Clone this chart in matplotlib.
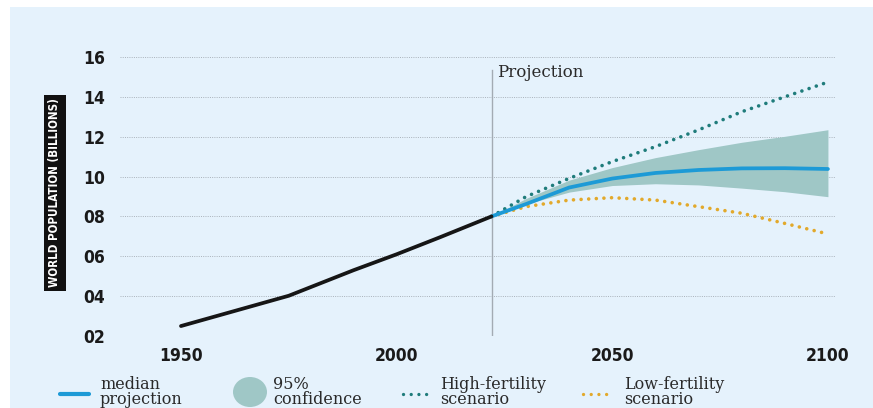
import matplotlib
matplotlib.use("Agg")
import matplotlib.pyplot as plt
from matplotlib import font_manager as fm
from matplotlib.patches import Ellipse
from matplotlib.lines import Line2D

# ---- data ----
hist_years = [1950, 1975, 1990, 2000, 2010, 2022]
hist_pop = [2.5, 4.02, 5.3, 6.1, 6.95, 8.0]

proj_years = [2022, 2030, 2040, 2050, 2060, 2070, 2080, 2090, 2100]
median_pop = [8.0, 8.62, 9.45, 9.9, 10.18, 10.33, 10.41, 10.42, 10.38]
ci_upper = [8.0, 8.9, 9.82, 10.45, 10.95, 11.35, 11.72, 12.02, 12.35]
ci_lower = [8.0, 8.62, 9.22, 9.55, 9.64, 9.58, 9.42, 9.24, 8.99]
high_pop = [8.0, 8.99, 9.91, 10.75, 11.5, 12.34, 13.25, 14.0, 14.74]
low_pop = [8.0, 8.49, 8.82, 8.94, 8.82, 8.49, 8.16, 7.65, 7.12]

y_ticks = [2, 4, 6, 8, 10, 12, 14, 16]
y_tick_labels = ["02", "04", "06", "08", "10", "12", "14", "16"]
x_ticks = [1950, 2000, 2050, 2100]
x_tick_labels = ["1950", "2000", "2050", "2100"]
projection_start = 2022

legend_labels = ["median\nprojection", "95%\nconfidence", "High-fertility\nscenario", "Low-fertility\nscenario"]

# ---- style ----
BG = "#e5f2fc"
BLACK = "#161616"
BLUE = "#1d9ad6"
BAND = "#9fc7c6"
TEAL = "#1f7c7b"
GOLD = "#e2a92b"
GRID = "#a9b2ba"
SERIF = ["DejaVu Serif"]

cond_path = None
for f in fm.findSystemFonts():
    n = f.lower()
    if ("condensed" in n or "narrow" in n) and "bold" in n and "oblique" not in n and "italic" not in n:
        cond_path = f
        if "dejavusans" in n.replace("-", "").replace("_", ""):
            break
if cond_path:
    COND = dict(fontproperties=fm.FontProperties(fname=cond_path))
else:
    COND = dict(family="DejaVu Sans", weight="bold")

W, H = 873, 408
fig = plt.figure(figsize=(W / 100, H / 100), dpi=100)
fig.patch.set_facecolor("white")

def fx(px):
    return px / W

def fy(py):
    return 1 - py / H

bg = fig.add_axes([fx(10), 0, 1 - fx(10), fy(7)])
bg.set_zorder(-5)
bg.set_facecolor(BG)
bg.set_xticks([]); bg.set_yticks([])
for s in bg.spines.values():
    s.set_visible(False)

px_per_unit = 19.93
ytop = 2 + (336 - 41) / px_per_unit
ax = fig.add_axes([fx(120), fy(336), fx(836) - fx(120), fy(41) - fy(336)])
ax.set_zorder(2)
ax.set_facecolor("none")
ax.set_xlim(1935.86, 2101.87)
ax.set_ylim(2, ytop)
for s in ax.spines.values():
    s.set_visible(False)

for yv in y_ticks:
    ax.axhline(yv, color=GRID, lw=0.7, ls=(0, (1, 1.3)), zorder=1)

ax.set_yticks(y_ticks)
ax.set_yticklabels(y_tick_labels, color="#1a1a1a", **COND)
ax.set_xticks(x_ticks)
ax.set_xticklabels(x_tick_labels, color="#1a1a1a", **COND)
for lab in ax.get_yticklabels() + ax.get_xticklabels():
    lab.set_fontsize(12.5)
ax.tick_params(axis="y", length=0, pad=11)
ax.tick_params(axis="x", length=0, pad=8)

ax.plot([projection_start, projection_start], [2, 15.35], color="#a3abb3", lw=1.0, zorder=2)
ax.text(projection_start + 1.3, 15.2, "Projection", family=SERIF, fontsize=12,
        color="#2a2a2a", va="center", ha="left")

ax.fill_between(proj_years, ci_lower, ci_upper, color=BAND, lw=0, zorder=3)
ax.plot(proj_years, high_pop, color=TEAL, lw=2.6, ls=(0, (0.01, 2.1)),
        dash_capstyle="round", zorder=4)
ax.plot(proj_years, low_pop, color=GOLD, lw=2.6, ls=(0, (0.01, 2.1)),
        dash_capstyle="round", zorder=4)
ax.plot(proj_years, median_pop, color=BLUE, lw=2.7, solid_capstyle="round", zorder=5)
ax.plot(hist_years, hist_pop, color=BLACK, lw=2.7, solid_capstyle="round", zorder=5)

yl = fig.text(fx(55), fy(193), "WORLD POPULATION (BILLIONS)", rotation=90,
              color="white", ha="center", va="center",
              bbox=dict(boxstyle="square,pad=0.35", facecolor="#111111", edgecolor="none"),
              **COND)
yl.set_fontsize(8.3)

fig.lines.append(Line2D([fx(60), fx(89)], [fy(394), fy(394)], transform=fig.transFigure,
                        color=BLUE, lw=3.0, solid_capstyle="round"))
fig.patches.append(Ellipse((fx(250), fy(392)), fx(34), 30 / H, transform=fig.transFigure,
                           facecolor=BAND, edgecolor="none"))
fig.lines.append(Line2D([fx(403), fx(431)], [fy(394), fy(394)], transform=fig.transFigure,
                        color=TEAL, lw=2.4, ls=(0, (0.01, 2.3)), dash_capstyle="round"))
fig.lines.append(Line2D([fx(583), fx(612)], [fy(394), fy(394)], transform=fig.transFigure,
                        color=GOLD, lw=2.4, ls=(0, (0.01, 2.3)), dash_capstyle="round"))
text_x = [100, 273, 440, 624]
for tx, lab in zip(text_x, legend_labels):
    fig.text(fx(tx), fy(404), lab, family=SERIF, fontsize=11.5, color="#2a2a2a",
             ha="left", va="baseline", linespacing=0.85)

fig.savefig("out.png", dpi=100)
